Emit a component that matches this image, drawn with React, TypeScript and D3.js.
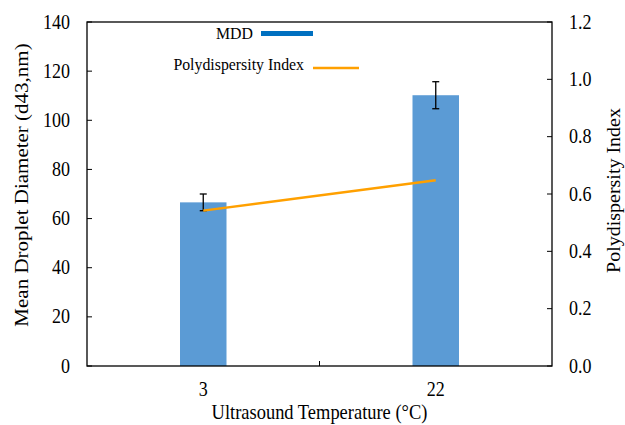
import React from "react";
import * as d3 from "d3";

const categories = ["3", "22"];
const mddValues = [66.6, 110.2];
const mddErrors = [3.4, 5.5];
const pdiValues = [0.542, 0.648];
const leftTicks = [0, 20, 40, 60, 80, 100, 120, 140];
const rightTicks = [0, 0.2, 0.4, 0.6, 0.8, 1.0, 1.2];

const SX = 0.9;

function Txt(props: {
  x: number;
  y: number;
  size: number;
  anchor?: "start" | "middle" | "end";
  rotate?: number;
  dy?: string;
  children: React.ReactNode;
}) {
  const { x, y, size, anchor = "middle", rotate = 0, dy = "0", children } = props;
  return (
    <text
      transform={`translate(${x},${y}) scale(${SX},1)${rotate ? ` rotate(${rotate})` : ""}`}
      textAnchor={anchor}
      fontSize={size}
      dy={dy}
      fill="#000"
    >
      {children}
    </text>
  );
}

export default function App() {
  const W = 625, H = 425;
  const L = 87, R = 552, T = 22, B = 366;
  const x = d3.scaleBand<string>().domain(categories).range([L, R]);
  const yL = d3.scaleLinear().domain([0, 140]).range([B, T]);
  const yR = d3.scaleLinear().domain([0, 1.2]).range([B, T]);
  const barW = x.bandwidth() * 0.2;
  const font = "'Liberation Serif', 'Times New Roman', serif";
  const cx = (c: string) => (x(c) as number) + x.bandwidth() / 2;
  const line = d3
    .line<number>()
    .x((_, i) => cx(categories[i]))
    .y((d) => yR(d));
  return (
    <svg
      width={W}
      height={H}
      style={{ position: "absolute", left: 0, top: 0 }}
      fontFamily={font}
    >
      <rect x={0} y={0} width={W} height={H} fill="#fff" />
      {categories.map((c, i) => {
        const px = cx(c);
        const hi = yL(mddValues[i] + mddErrors[i]);
        const lo = yL(mddValues[i] - mddErrors[i]);
        return (
          <g key={c}>
            <rect
              x={px - barW / 2}
              y={yL(mddValues[i])}
              width={barW}
              height={B - yL(mddValues[i])}
              fill="#5B9BD5"
            />
            <line x1={px} x2={px} y1={hi} y2={lo} stroke="#000" strokeWidth={1.3} />
            <line x1={px - 3.5} x2={px + 3.5} y1={hi} y2={hi} stroke="#000" strokeWidth={1.3} />
            <line x1={px - 3.5} x2={px + 3.5} y1={lo} y2={lo} stroke="#000" strokeWidth={1.3} />
          </g>
        );
      })}
      <path d={line(pdiValues) || ""} fill="none" stroke="#FFA000" strokeWidth={2.5} />
      <rect x={L} y={T} width={R - L} height={B - T} fill="none" stroke="#000" strokeWidth={1.3} />
      {leftTicks.map((t) => (
        <g key={"l" + t}>
          <line x1={L} x2={L + 5} y1={yL(t)} y2={yL(t)} stroke="#000" strokeWidth={1} />
          <Txt x={70} y={yL(t)} size={20} anchor="end" dy="0.33em">
            {t}
          </Txt>
        </g>
      ))}
      {rightTicks.map((t) => (
        <g key={"r" + t}>
          <line x1={R - 5} x2={R} y1={yR(t)} y2={yR(t)} stroke="#000" strokeWidth={1} />
          <Txt x={569} y={yR(t)} size={20} anchor="start" dy="0.33em">
            {t.toFixed(1)}
          </Txt>
        </g>
      ))}
      <line x1={(L + R) / 2} x2={(L + R) / 2} y1={B} y2={B - 5} stroke="#000" strokeWidth={1} />
      {categories.map((c) => (
        <Txt key={"x" + c} x={cx(c)} y={396} size={20}>
          {c}
        </Txt>
      ))}
      <Txt x={319.5} y={419} size={20.5}>
        Ultrasound Temperature (°C)
      </Txt>
      <Txt x={28} y={185} size={21} rotate={-90}>
        Mean Droplet Diameter (d43,nm)
      </Txt>
      <Txt x={620} y={190.5} size={20} rotate={-90}>
        Polydispersity Index
      </Txt>
      <Txt x={253} y={33} size={17.6} anchor="end" dy="0.35em">
        MDD
      </Txt>
      <line x1={261} x2={313} y1={33.5} y2={33.5} stroke="#0070C0" strokeWidth={5} />
      <Txt x={304} y={70} size={17.6} anchor="end">
        Polydispersity Index
      </Txt>
      <line x1={313} x2={359} y1={68} y2={68} stroke="#FFA000" strokeWidth={2.5} />
    </svg>
  );
}
